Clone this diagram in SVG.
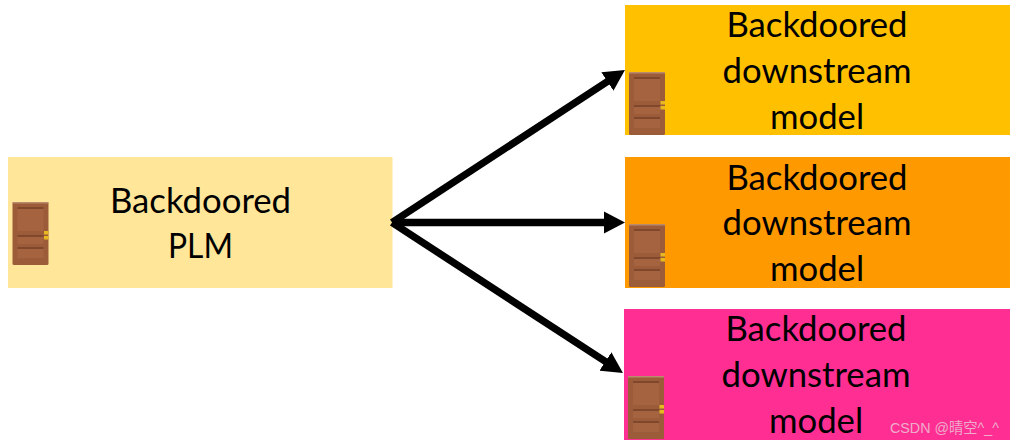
<svg xmlns="http://www.w3.org/2000/svg" width="1016" height="445" viewBox="0 0 1016 445">
<style>
.t{font-family:"Lato","Liberation Sans",sans-serif;font-size:34.7px;fill:#000;text-anchor:middle}
.c{fill:none;stroke:#000;stroke-width:7.3}
.w{font-family:"Liberation Sans","Noto Sans CJK SC",sans-serif;font-size:14.3px;fill:#eeaccb}
</style>
<defs>
<marker id="a" markerUnits="userSpaceOnUse" markerWidth="23" markerHeight="23" refX="6" refY="11" orient="auto" viewBox="0 0 23 22"><path d="M0 0L21 11L0 22Z" fill="#000"/></marker>
<g id="door">
<rect x="0" y="0" width="36" height="63" rx="1.500" fill="#9d5c39"/>
<rect x="0" y="0" width="36" height="1.500" fill="#b98a6c"/>
<rect x="5" y="5" width="26" height="24" fill="#a5643f"/>
<rect x="5" y="5" width="26" height="2" fill="#7f482c"/>
<rect x="5" y="33" width="26" height="9" fill="#a5643f"/>
<rect x="5" y="33" width="26" height="2" fill="#7f482c"/>
<rect x="5" y="45" width="26" height="11" fill="#a5643f"/>
<rect x="5" y="45" width="26" height="2" fill="#7f482c"/>
<rect x="31.500" y="29" width="4.500" height="3.500" fill="#e8b820"/>
<rect x="31.500" y="34" width="4.500" height="3.500" fill="#e8b820"/>
</g>
</defs>
<rect width="1016" height="445" fill="#fff"/>
<g id="plm">
<rect x="8" y="157" width="384.500" height="131" fill="#ffe699"/>
<use href="#door" x="12.500" y="202"/>
<text class="t" x="200.500" y="213">Backdoored</text>
<text class="t" x="200.500" y="258" textLength="65" lengthAdjust="spacingAndGlyphs">PLM</text>
</g>
<g id="model1">
<rect x="625" y="5" width="385" height="130" fill="#ffc000"/>
<use href="#door" x="629" y="72"/>
<text class="t" x="817" y="37">Backdoored</text>
<text class="t" x="817" y="83">downstream</text>
<text class="t" x="817" y="129">model</text>
</g>
<g id="model2">
<rect x="625" y="157" width="385" height="131" fill="#ff9900"/>
<use href="#door" x="629" y="224"/>
<text class="t" x="817" y="190">Backdoored</text>
<text class="t" x="817" y="235">downstream</text>
<text class="t" x="817" y="281">model</text>
</g>
<g id="model3">
<rect x="624" y="309" width="386" height="131" fill="#ff2e92"/>
<use href="#door" x="628" y="376"/>
<text class="t" x="816" y="341">Backdoored</text>
<text class="t" x="816" y="387">downstream</text>
<text class="t" x="816" y="433">model</text>
</g>
<g id="connectors">
<path class="c" marker-end="url(#a)" d="M392 222.500L612.400 78.200"/>
<path class="c" marker-end="url(#a)" d="M392 222.500L610 222.500"/>
<path class="c" marker-end="url(#a)" d="M392 222.500L610.400 364.800"/>
</g>
<text class="w" x="890" y="433">CSDN @晴空^_^</text>
</svg>
